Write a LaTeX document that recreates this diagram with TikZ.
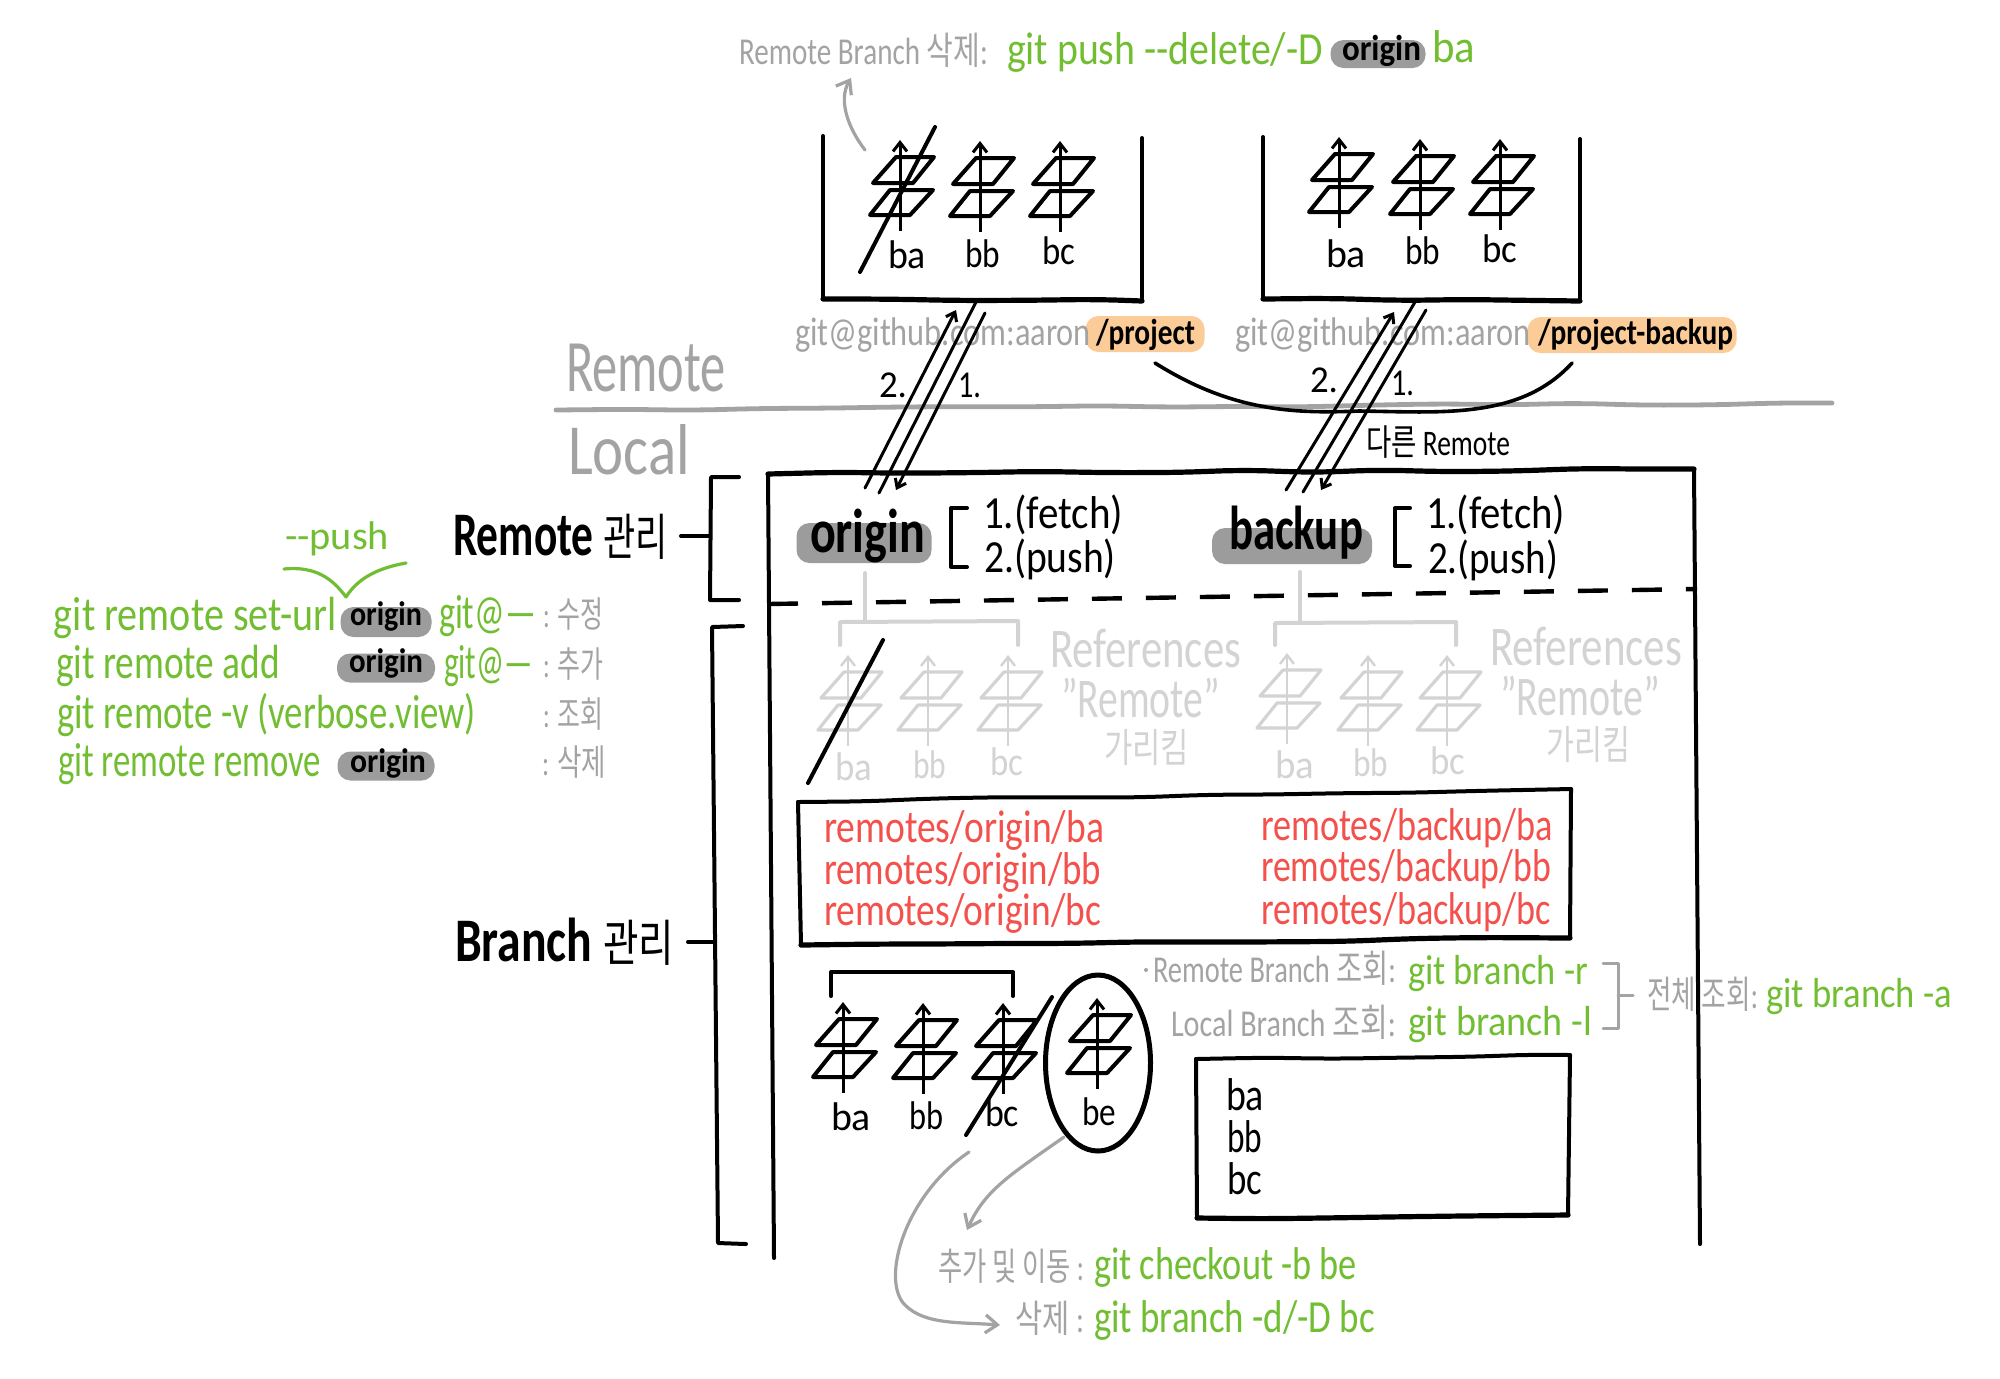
\documentclass[tikz,border=0pt]{standalone}
\usepackage{graphicx}
\usepackage{fontspec}
\setmainfont{Carlito}
\newfontfamily\kr{Noto Sans CJK KR}
\usetikzlibrary{arrows.meta,decorations.pathmorphing,shapes.geometric}
\definecolor{txtg}{HTML}{A3A3A3}
\definecolor{grn}{HTML}{72BE32}
\definecolor{redt}{HTML}{F4504C}
\definecolor{orng}{HTML}{FBCB98}
\definecolor{lgray}{HTML}{D3D3D3}
\definecolor{pillg}{HTML}{9C9C9C}
\newlength\pxu \setlength\pxu{0.5pt}
\newcommand\fw[2]{\resizebox{#1\pxu}{\height}{#2}}
\newcommand\T[7]{\node[tx,text=#6] (#1) at (#2,#3) {\fontsize{#5pt}{#5pt}\selectfont\fw{#4}{#7}};}
\newcommand\commit[5]{%
 \begin{scope}[shift={(#1,#2)}]
  \draw[line width=#4,draw=#3,line join=round] (-4,17)--(34,17)--(13,43)--(-27,43)--cycle;
  \draw[line width=#4,draw=#3,line join=round] (-10,50)--(33,50)--(10,75)--(-30,75)--cycle;
  \draw[line width=#5,draw=#3,-{Straight Barb[length=4.5pt,width=7pt]}] (0,91)--(0,0);
 \end{scope}}
\newcommand\pill[6]{\node[pillbox,fill=#6,minimum width=#4*0.5pt,minimum height=#5*0.5pt] (#1) at (#2,#3) {};}
\tikzset{
 x=0.5pt,y=-0.5pt,
 tx/.style={inner sep=0pt,outer sep=0pt,anchor=base west},
 pillbox/.style={inner sep=0pt,outer sep=0pt,rounded corners=6.5pt,draw=none},
 ink/.style={line width=2pt,line cap=round,line join=round},
 thick ink/.style={line width=2.6pt,line cap=round,line join=round},
 wob/.style={decorate,decoration={random steps,segment length=34pt,amplitude=0.7pt},rounded corners=12pt},
 grayarrow/.style={line width=1.6pt,draw=txtg,line cap=round,-{Straight Barb[length=6pt,width=9pt]}},
 lightline/.style={line width=2pt,draw=lgray,line cap=round,line join=round},
 link/.style={line width=1.5pt,line cap=round},
 linkhead/.style={-{Straight Barb[length=4pt,width=6pt]}},
}
\begin{document}
\begin{tikzpicture}
\pgfmathsetseed{7}
\useasboundingbox (0,0) rectangle (2000,1378);
\fill[white] (0,0) rectangle (2000,1378);

% ---------- pills
\pill{pTop}{1378}{54}{95}{28}{pillg}
\pill{pProject}{1145}{334}{119}{36}{orng}
\pill{pBackup}{1632}{335}{209}{36}{orng}
\pill{pOrigin}{864}{543}{135}{40}{pillg}
\pill{pBk}{1292}{546}{160}{36}{pillg}
\pill{pL1}{386}{622}{91}{30}{pillg}
\pill{pL2}{386}{668}{98}{29}{pillg}
\pill{pL4}{386}{766}{97}{29}{pillg}

% ---------- top caption
\T{tTopA}{739}{64}{249}{19}{txtg}{Remote Branch {\kr 삭제}:}
\T{tTopB}{1007}{64}{316}{23}{grn}{git push -{}-delete/-D}
\T{tTopC}{1342}{60}{79}{18}{black}{\bfseries origin}
\T{tTopD}{1432}{62}{43}{23}{grn}{ba}
\coordinate (upS) at (865,150); \coordinate (upE) at (851,78);
\draw[grayarrow] (upS) .. controls (848,128) and (838,100) .. (upE);

% ---------- remote boxes
\draw[ink] (823,136)--(823,298);
\draw[ink] (1142,138)--(1142,298);
\draw[thick ink,wob] (823,299)--(1142,301);
\draw[ink] (1263,137)--(1263,298);
\draw[ink] (1580,139)--(1580,298);
\draw[thick ink,wob] (1263,299)--(1580,301);

\commit{900}{140}{black}{2pt}{1.5pt}
\commit{980}{141}{black}{2pt}{1.5pt}
\commit{1060}{141}{black}{2pt}{1.5pt}
\commit{1339}{137}{black}{2pt}{1.5pt}
\commit{1420}{139}{black}{2pt}{1.5pt}
\commit{1500}{139}{black}{2pt}{1.5pt}
\coordinate (sl1a) at (935,127); \coordinate (sl1b) at (860,272);
\draw[ink] (sl1a)--(sl1b);

\T{rA}{888}{268}{38}{20}{black}{ba}
\T{rB}{965}{267}{35}{20}{black}{bb}
\T{rC}{1042}{264}{33}{20}{black}{bc}
\T{rD}{1326}{267}{40}{20}{black}{ba}
\T{rE}{1405}{264}{35}{20}{black}{bb}
\T{rF}{1482}{262}{35}{20}{black}{bc}

% ---------- URLs
\T{uA}{795}{345}{296}{20}{txtg}{git@github.com:aaron}
\T{uB}{1096}{344}{99}{18}{black}{\bfseries /project}
\T{uC}{1235}{345}{296}{20}{txtg}{git@github.com:aaron}
\T{uD}{1538}{344}{195}{18}{black}{\bfseries /project-backup}

% ---------- Remote / Local split
\coordinate (sepL) at (556,410); \coordinate (sepR) at (1832,403);
\draw[line width=2.4pt,draw=txtg,line cap=round,wob] (sepL)--(sepR);
\T{tRemote}{566}{391}{160}{37}{txtg}{Remote}
\T{tLocal}{568}{474}{122}{36}{txtg}{Local}

\coordinate (cvA) at (1155,363); \coordinate (cvB) at (1572,363);
\draw[line width=1.8pt,line cap=round] (cvA) .. controls (1230,410) and (1290,414) .. (1359,411) .. controls (1440,412) and (1520,420) .. (cvB);

% ---------- links
\coordinate (la1) at (865,488); \coordinate (la2) at (956,310);
\coordinate (lb1) at (879,493); \coordinate (lb2) at (976,302);
\coordinate (lc1) at (985,313); \coordinate (lc2) at (896,490);
\coordinate (ld1) at (1286,490); \coordinate (ld2) at (1394,312);
\coordinate (le1) at (1303,492); \coordinate (le2) at (1415,302);
\coordinate (lf1) at (1426,310); \coordinate (lf2) at (1321,490);
\draw[link,linkhead] (la1)--(la2);
\draw[link] (lb1)--(lb2);
\draw[link,linkhead] (lc1)--(lc2);
\draw[link,linkhead] (ld1)--(ld2);
\draw[link] (le1)--(le2);
\draw[link,linkhead] (lf1)--(lf2);
\T{n2a}{879}{397}{28}{19}{black}{2.}
\T{n1a}{958}{397}{23}{19}{black}{1.}
\T{n2b}{1310}{392}{28}{19}{black}{2.}
\T{n1b}{1391}{395}{23}{19}{black}{1.}
\T{tOther}{1366}{455}{144}{18}{black}{{\kr 다른} Remote}

% ---------- local box
\draw[thick ink,wob] (768,474)--(1694,469);
\draw[ink] (768,474)--(774,1258);
\draw[ink] (1694,469)--(1700,1244);
\draw[line width=2.2pt,dash pattern=on 15pt off 12pt] (768,604)--(1697,589);

% ---------- side brackets
\draw[ink] (739,477)--(711,477)--(710,600)--(739,600);
\draw[ink] (681,536)--(710,536);
\draw[ink] (743,626)--(712,627)--(718,1243)--(746,1244);
\draw[ink] (688,942)--(714,942);
\T{tRM}{453}{555}{215}{31}{black}{\bfseries Remote {\mdseries\fontsize{25pt}{25pt}\selectfont\kr 관리}}
\T{tBM}{455}{961}{219}{31}{black}{\bfseries Branch {\mdseries\fontsize{25pt}{25pt}\selectfont\kr 관리}}

% ---------- remote names
\T{tOrigin}{810}{552}{115}{31}{black}{\bfseries origin}
\T{tBackup}{1229}{549}{134}{31}{black}{\bfseries backup}
\draw[ink] (967,508)--(951,508)--(951,567)--(967,567);
\draw[ink] (1410,508)--(1395,508)--(1395,566)--(1410,566);
\T{fA}{983}{528}{140}{23}{black}{1.(fetch)}
\T{pA}{984}{572}{132}{23}{black}{2.(push)}
\T{fB}{1426}{528}{139}{23}{black}{1.(fetch)}
\T{pB}{1428}{573}{130}{23}{black}{2.(push)}

% ---------- references (light)
\draw[lightline] (865,573)--(865,622);
\draw[lightline] (840,645)--(840,622)--(1018,621)--(1018,645);
\draw[lightline] (1300,572)--(1300,622);
\draw[lightline] (1275,645)--(1275,623)--(1456,622)--(1456,645);
\commit{848}{655}{lgray}{1.6pt}{1.2pt}
\commit{928}{655}{lgray}{1.6pt}{1.2pt}
\commit{1008}{655}{lgray}{1.6pt}{1.2pt}
\commit{1287}{653}{lgray}{1.6pt}{1.2pt}
\commit{1368}{655}{lgray}{1.6pt}{1.2pt}
\commit{1447}{655}{lgray}{1.6pt}{1.2pt}
\coordinate (sl2a) at (883,640); \coordinate (sl2b) at (808,783);
\draw[ink] (sl2a)--(sl2b);
\T{lA}{835}{780}{37}{20}{lgray}{ba}
\T{lB}{913}{778}{33}{20}{lgray}{bb}
\T{lC}{990}{775}{33}{20}{lgray}{bc}
\T{lD}{1275}{778}{39}{20}{lgray}{ba}
\T{lE}{1353}{776}{35}{20}{lgray}{bb}
\T{lF}{1430}{774}{35}{20}{lgray}{bc}
\T{refA}{1050}{667}{191}{28}{lgray}{References}
\T{refB}{1061}{717}{159}{28}{lgray}{"Remote"}
\T{refC}{1104}{762}{85}{20}{lgray}{{\kr 가리킴}}
\T{refD}{1490}{665}{192}{28}{lgray}{References}
\T{refE}{1500}{715}{160}{28}{lgray}{"Remote"}
\T{refF}{1546}{759}{84}{20}{lgray}{{\kr 가리킴}}

% ---------- remote tracking box
\draw[ink,wob] (798,802)--(1571,789);
\draw[ink] (1571,789)--(1570,938);
\draw[thick ink,wob] (801,945)--(1570,938);
\draw[ink] (798,802)--(801,945);
\T{r1}{824}{842}{280}{23}{redt}{remotes/origin/ba}
\T{r2}{824}{884}{277}{23}{redt}{remotes/origin/bb}
\T{r3}{824}{925}{277}{23}{redt}{remotes/origin/bc}
\T{r4}{1261}{840}{292}{23}{redt}{remotes/backup/ba}
\T{r5}{1261}{881}{290}{23}{redt}{remotes/backup/bb}
\T{r6}{1261}{924}{290}{23}{redt}{remotes/backup/bc}

% ---------- local branches
\draw[ink] (831,996)--(831,972)--(1013,972)--(1013,996);
\commit{843}{1002}{black}{2pt}{1.5pt}
\commit{923}{1003}{black}{2pt}{1.5pt}
\commit{1003}{1003}{black}{2pt}{1.5pt}
\commit{1097}{998}{black}{2pt}{1.5pt}
\coordinate (sl3a) at (1052,997); \coordinate (sl3b) at (966,1135);
\draw[ink] (sl3a)--(sl3b);
\node[draw,line width=2.5pt,ellipse,minimum width=52.5pt,minimum height=88pt,inner sep=0pt] (beOval) at (1098,1063) {};
\T{bA}{831}{1130}{40}{20}{black}{ba}
\T{bB}{909}{1129}{34}{20}{black}{bb}
\T{bC}{985}{1126}{34}{20}{black}{bc}
\T{bE}{1082}{1125}{34}{20}{black}{be}

% ---------- branch list commands
\fill[txtg] (1146,970) circle (1pt);
\T{qA}{1153}{982}{243}{19}{txtg}{Remote Branch {\kr 조회}:}
\T{qB}{1408}{984}{180}{21}{grn}{git branch -r}
\T{qC}{1171}{1036}{225}{19}{txtg}{Local Branch {\kr 조회}:}
\T{qD}{1408}{1035}{184}{21}{grn}{git branch -l}
\draw[line width=1.5pt,draw=txtg,line join=round,line cap=round] (1603,963)--(1618,963)--(1618,1028)--(1603,1028);
\draw[line width=1.5pt,draw=txtg,line cap=round] (1618,995)--(1633,995);
\T{qE}{1647}{1008}{111}{19}{txtg}{{\kr 전체 조회}:}
\T{qF}{1766}{1007}{186}{21}{grn}{git branch -a}

% ---------- list box
\draw[ink,wob] (1196,1059)--(1570,1055);
\draw[ink] (1570,1055)--(1568,1215);
\draw[thick ink,wob] (1197,1218)--(1568,1215);
\draw[ink] (1196,1059)--(1197,1218);
\T{xA}{1226}{1110}{38}{23}{black}{ba}
\T{xB}{1227}{1152}{35}{23}{black}{bb}
\T{xC}{1227}{1194}{35}{23}{black}{bc}

% ---------- bottom arrows and captions
\coordinate (g1s) at (1064,1137); \coordinate (g1e) at (967,1230);
\draw[grayarrow] (g1s) .. controls (1010,1175) and (985,1190) .. (g1e);
\coordinate (g2s) at (969,1152); \coordinate (g2e) at (1000,1325);
\draw[grayarrow] (g2s) .. controls (905,1195) and (880,1280) .. (905,1305) .. controls (925,1325) and (960,1322) .. (g2e);
\T{cA}{938}{1280}{146}{19}{txtg}{{\kr 추가 및 이동} :}
\T{cB}{1094}{1279}{263}{23}{grn}{git checkout -b be}
\T{cC}{1015}{1332}{69}{19}{txtg}{{\kr 삭제} :}
\T{cD}{1094}{1332}{281}{23}{grn}{git branch -d/-D bc}

% ---------- remote commands, left
\T{gP}{285}{549}{104}{20}{grn}{-{}-push}
\coordinate (ckA) at (284,569); \coordinate (ckB) at (346,597); \coordinate (ckC) at (406,563);
\draw[line width=1.6pt,draw=grn,line cap=round,line join=round] (ckA) .. controls (315,566) and (332,578) .. (ckB) .. controls (358,578) and (378,568) .. (ckC);
\T{g1}{54}{630}{283}{24}{grn}{git remote set-url}
\T{o1}{350}{625}{72}{17}{black}{\bfseries origin}
\T{g1b}{439}{628}{97}{24}{grn}{git@—}
\T{k1}{543}{627}{60}{18}{txtg}{: {\kr 수정}}
\T{g2}{56}{678}{224}{24}{grn}{git remote add}
\T{o2}{349}{672}{74}{17}{black}{\bfseries origin}
\T{g2b}{444}{678}{89}{24}{grn}{git@—}
\T{k2}{543}{677}{60}{18}{txtg}{: {\kr 추가}}
\T{g3}{57}{728}{419}{24}{grn}{git remote -v (verbose.view)}
\T{k3}{543}{727}{60}{18}{txtg}{: {\kr 조회}}
\T{g4}{58}{776}{263}{24}{grn}{git remote remove}
\T{o4}{350}{772}{76}{17}{black}{\bfseries origin}
\T{k4}{542}{775}{64}{18}{txtg}{: {\kr 삭제}}
\end{tikzpicture}
\end{document}
